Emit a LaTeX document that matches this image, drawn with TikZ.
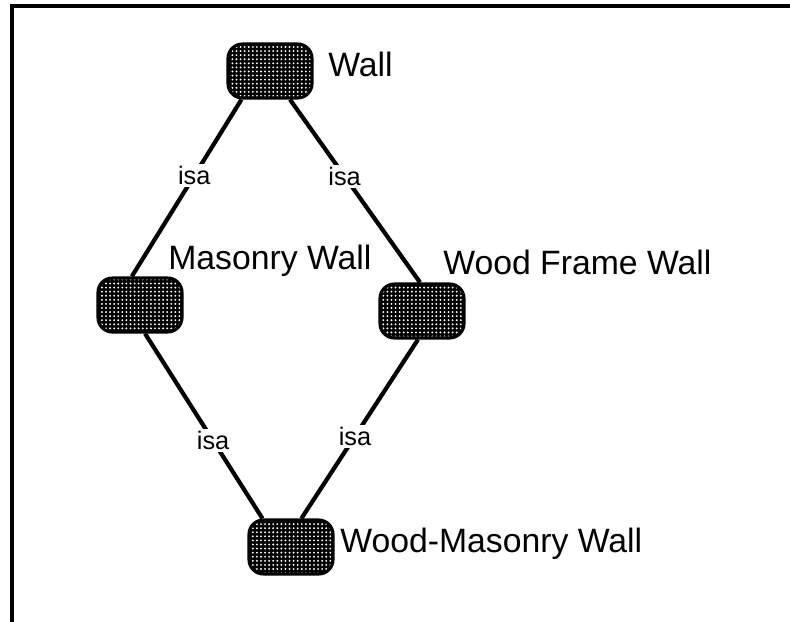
\documentclass[tikz,border=0pt]{standalone}
\usepackage{fontspec}
\setmainfont{Liberation Sans}
\usetikzlibrary{patterns.meta}

\tikzset{
  concept/.style={draw, line width=2.2pt, rounded corners=0.36cm,
    minimum width=2.1cm, minimum height=1.35cm,
    preaction={fill=black}, pattern={Dots[distance=2.9pt, radius=0.75pt]}, pattern color=white},
  isa/.style={line width=3pt},
  isalabel/.style={fill=white, inner sep=1.5pt, font=\fontsize{18}{18}\selectfont},
  conceptname/.style={anchor=base west, inner sep=0pt, font=\fontsize{24}{24}\selectfont},
}

\begin{document}
\begin{tikzpicture}[x=0.025cm,y=-0.025cm]
\useasboundingbox (0,0) rectangle (790,622);
% window edge
\draw[line width=2.2pt] (790,6) -| (12,622);

% concepts
\node[concept] (wall) at (270,71) {};
\node[concept] (masonry) at (140,305) {};
\node[concept] (woodframe) at (422,311) {};
\node[concept] (woodmasonry) at (291,547) {};

\node[conceptname] (walltxt) at (328,77) {Wall};
\node[conceptname] (masonrytxt) at (168,270) {Masonry Wall};
\node[conceptname] (woodframetxt) at (443,275) {Wood Frame Wall};
\node[conceptname] (woodmasonrytxt) at (340,553) {Wood-Masonry Wall};

% isa links
\draw[isa] (wall.225) -- node[isalabel, pos=0.43] (isa1) {isa} (masonry.106);
\draw[isa] (wall.305) -- node[isalabel, pos=0.42] (isa2) {isa} (woodframe.94);
\draw[isa] (masonry.280) -- node[isalabel, pos=0.58] (isa3) {isa} (woodmasonry.135);
\draw[isa] (woodframe.262) -- node[isalabel, pos=0.54] (isa4) {isa} (woodmasonry.70);
\end{tikzpicture}
\end{document}
